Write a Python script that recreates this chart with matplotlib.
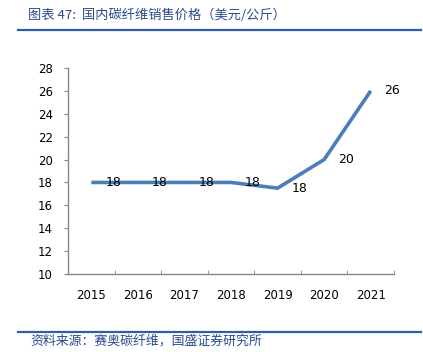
import matplotlib.pyplot as plt
from matplotlib.lines import Line2D

plt.rcParams['font.family'] = ['Noto Sans CJK SC', 'DejaVu Sans']

# data
years = ['2015', '2016', '2017', '2018', '2019', '2020', '2021']
price = [18, 18, 18, 18, 17.5, 20, 26]
price_labels = ['18', '18', '18', '18', '18', '20', '26']
yticks = [10, 12, 14, 16, 18, 20, 22, 24, 26, 28]

fig = plt.figure(figsize=(4.23, 3.52), dpi=100)
ax = fig.add_axes([68 / 423, 1 - 274 / 352, (394 - 68) / 423, (274 - 68) / 352])

x = list(range(len(years)))
ax.plot(x, price, color='#4a7ebb', linewidth=2.6, solid_capstyle='butt', zorder=3)

# value labels to the right of each point
for xi, yi, lab in zip(x, price, price_labels):
    ax.annotate(lab, (xi, yi), xytext=(10, 0), textcoords='offset points',
                ha='left', va='center', fontsize=9, color='black',
                family='DejaVu Sans')

ax.set_xlim(-0.5, len(years) - 0.5)
ax.set_ylim(10, 28)
ax.set_yticks(yticks)
ax.set_xticks(x)
ax.set_xticklabels(years, family='DejaVu Sans', fontsize=8.5)
ax.set_xticks([i - 0.5 for i in range(len(years) + 1)], minor=True)
ax.tick_params(axis='x', which='major', length=0, pad=11)
ax.tick_params(axis='x', which='minor', direction='in', length=3, color='#868686')
ax.tick_params(axis='y', direction='out', length=3, color='#868686', labelsize=8.5, pad=8)
for lab in ax.get_yticklabels():
    lab.set_family('DejaVu Sans')

for side in ['top', 'right']:
    ax.spines[side].set_visible(False)
for side in ['left', 'bottom']:
    ax.spines[side].set_color('#868686')
    ax.spines[side].set_linewidth(1)

# title and source
fig.text(28 / 423, 1 - 15 / 352, '图表 47:  国内碳纤维销售价格（美元/公斤）',
         fontsize=9.5, color='#2b4b8c', ha='left', va='center')
fig.add_artist(Line2D([18 / 423, 421 / 423], [1 - 30 / 352, 1 - 30 / 352],
                      color='#2e5ea8', linewidth=1.6))
fig.add_artist(Line2D([18 / 423, 421 / 423], [1 - 332 / 352, 1 - 332 / 352],
                      color='#2e5ea8', linewidth=1.6))
fig.text(30 / 423, 1 - 341 / 352, '资料来源：赛奥碳纤维，国盛证券研究所',
         fontsize=9.3, color='#2b4b8c', ha='left', va='center')

fig.savefig('out.png', dpi=100)
